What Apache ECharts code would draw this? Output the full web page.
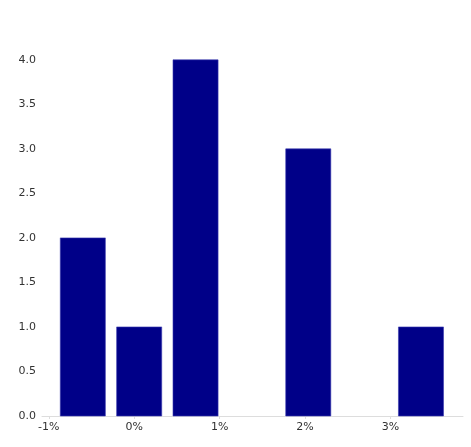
<!DOCTYPE html>
<html><head><meta charset="utf-8">
<script src="https://cdn.jsdelivr.net/npm/echarts@6/dist/echarts.min.js"></script>
<style>html,body{margin:0;padding:0;background:#fff}#c{width:471px;height:447px}</style>
</head><body><div id="c"></div>
<script>
// histogram bin edges (percent) and counts
const binEdges = [-0.932, -0.272, 0.388, 1.048, 1.708, 2.368, 3.028, 3.688];
const counts = [2, 1, 4, 0, 3, 0, 1];
const xTicks = [-1, 0, 1, 2, 3];
const yTicks = [0, 0.5, 1, 1.5, 2, 2.5, 3, 3.5, 4];

const rwidth = 0.8;
const data = counts.map((c, i) => [binEdges[i], binEdges[i + 1], c]);

const chart = echarts.init(document.getElementById('c'), null, {renderer: 'canvas'});
const font = {fontFamily: 'DejaVu Sans', fontSize: 11, color: '#333'};
chart.setOption({
  animation: false,
  grid: {left: 42, right: 8, top: 42, bottom: 31, containLabel: false},
  xAxis: {
    type: 'value', min: -1.08, max: 3.85,
    axisLine: {show: true, lineStyle: {color: '#ddd', width: 1}},
    axisTick: {show: true, length: 3, lineStyle: {color: '#ddd'}, customValues: xTicks},
    axisLabel: Object.assign({margin: 6, customValues: xTicks, formatter: v => Math.round(v) + '%'}, font),
    splitLine: {show: false}
  },
  yAxis: {
    type: 'value', min: 0, max: 4.2,
    axisLine: {show: false}, axisTick: {show: false},
    axisLabel: Object.assign({margin: 6, customValues: yTicks, formatter: v => v.toFixed(1)}, font),
    splitLine: {show: false}
  },
  series: [{
    type: 'custom',
    data: data,
    encode: {x: [0, 1], y: 2},
    renderItem: function (params, api) {
      const x0 = api.value(0), x1 = api.value(1), c = api.value(2);
      if (!c) return null;
      const w = x1 - x0, pad = w * (1 - rwidth) / 2;
      const p0 = api.coord([x0 + pad, c]);
      const p1 = api.coord([x1 - pad, 0]);
      return {
        type: 'rect',
        shape: {x: p0[0], y: p0[1], width: p1[0] - p0[0], height: p1[1] - p0[1]},
        style: {fill: '#000088', stroke: '#3b3bb0', lineWidth: 0.6}
      };
    }
  }]
});
</script></body></html>
